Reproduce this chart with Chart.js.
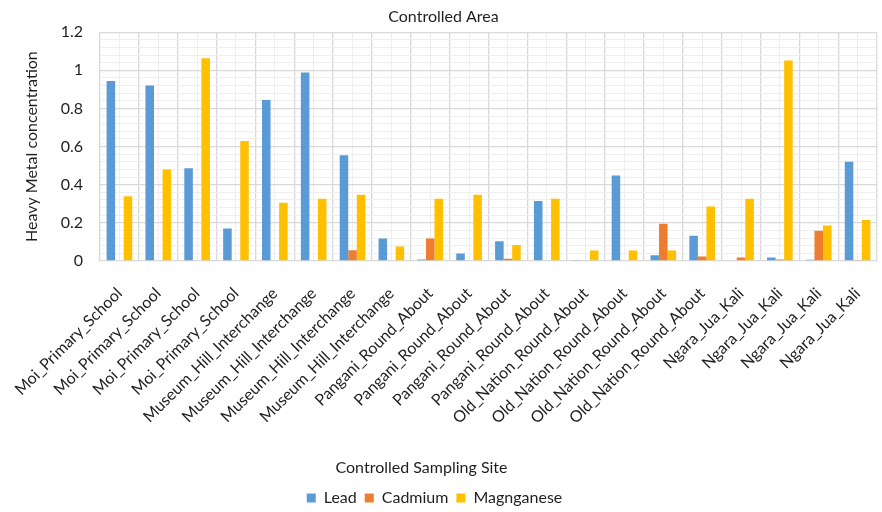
<!DOCTYPE html>
<html>
<head>
<meta charset="utf-8">
<script src="https://cdn.jsdelivr.net/npm/chart.js@4/dist/chart.umd.min.js"></script>
<style>
  html, body { margin: 0; padding: 0; background: #fff; }
  #wrap { width: 882px; height: 512px; }
</style>
</head>
<body>
<div id="wrap"><canvas id="chart" width="882" height="512"></canvas></div>
<script>
// Sampling sites in the controlled area
const sites = [
  'Moi_Primary_School', 'Moi_Primary_School', 'Moi_Primary_School', 'Moi_Primary_School',
  'Museum_Hill_Interchange', 'Museum_Hill_Interchange', 'Museum_Hill_Interchange', 'Museum_Hill_Interchange',
  'Pangani_Round_About', 'Pangani_Round_About', 'Pangani_Round_About', 'Pangani_Round_About',
  'Old_Nation_Round_About', 'Old_Nation_Round_About', 'Old_Nation_Round_About', 'Old_Nation_Round_About',
  'Ngara_Jua_Kali', 'Ngara_Jua_Kali', 'Ngara_Jua_Kali', 'Ngara_Jua_Kali'
];

// Heavy metal concentrations per sample
const lead = [0.944, 0.921, 0.487, 0.170, 0.844, 0.988, 0.555, 0.118, 0.008, 0.039,
              0.104, 0.315, 0.003, 0.449, 0.030, 0.133, 0.000, 0.019, 0.007, 0.520];
const cadmium = [0, 0, 0, 0, 0, 0, 0.056, 0, 0.118, 0,
                 0.012, 0.004, 0, 0, 0.196, 0.023, 0.018, 0.008, 0.158, 0.005];
const manganese = [0.340, 0.480, 1.063, 0.629, 0.305, 0.326, 0.347, 0.076, 0.326, 0.347,
                   0.084, 0.326, 0.055, 0.055, 0.055, 0.286, 0.326, 1.051, 0.186, 0.215];

// Axis range
const yMin = 0, yMax = 1.2, yMajorStep = 0.2, yMinorStep = 0.04;

const FONT = "Lato, 'Open Sans', sans-serif";
const TEXT = '#1f1f1f';
const MAJOR = '#d9d9d9';
const MINOR = '#eeeeee';

const isMajor = v => Math.abs(Math.round(v / yMajorStep) * yMajorStep - v) < 1e-6;
const noPadding = () => ({ left: 0, top: 0, right: 0, bottom: 0 });

// Horizontal centres for the title, axis caption and legend blocks
const blockCentres = { title: 443.5, subtitle: 421.5, legend: 434.5 };

const centreBlocks = {
  id: 'centreBlocks',
  afterLayout(chart) {
    const move = (box, cx) => {
      if (!box) return;
      const d = cx - (box.left + box.right) / 2;
      box.left += d;
      box.right += d;
    };
    chart.boxes.forEach(box => {
      if (box === chart.legend) move(box, blockCentres.legend);
      else if (box === chart.titleBlock) move(box, blockCentres.title);
      else if (box.options && box.options.text === 'Controlled Sampling Site') move(box, blockCentres.subtitle);
    });
  }
};

new Chart(document.getElementById('chart'), {
  type: 'bar',
  data: {
    labels: sites,
    datasets: [
      { label: 'Lead', data: lead, backgroundColor: '#5b9bd5' },
      { label: 'Cadmium', data: cadmium, backgroundColor: '#ed7d31' },
      { label: 'Magnganese', data: manganese, backgroundColor: '#ffc000' }
    ]
  },
  plugins: [centreBlocks],
  options: {
    responsive: false,
    animation: false,
    devicePixelRatio: 1,
    layout: { padding: { left: 22, right: 5, top: 3, bottom: -4 } },
    datasets: { bar: { categoryPercentage: 0.66, barPercentage: 1.0 } },
    plugins: {
      title: {
        display: true,
        text: 'Controlled Area',
        color: TEXT,
        font: { family: FONT, size: 16, weight: 'normal' },
        padding: { top: 4, bottom: 6 }
      },
      subtitle: {
        display: true,
        position: 'bottom',
        weight: 500,
        text: 'Controlled Sampling Site',
        color: TEXT,
        font: { family: FONT, size: 16, weight: 'normal' },
        padding: { top: 4, bottom: 4.4 }
      },
      legend: {
        position: 'bottom',
        labels: {
          color: TEXT,
          font: { family: FONT, size: 16 },
          boxWidth: 9,
          boxHeight: 9,
          padding: 8
        }
      },
      tooltip: { enabled: false }
    },
    scales: {
      x: {
        type: 'category',
        offset: true,
        grid: { offset: true, color: MAJOR, lineWidth: 1.3, drawTicks: false },
        border: { display: false },
        ticks: {
          color: TEXT,
          font: { family: FONT, size: 16 },
          minRotation: 45,
          maxRotation: 45,
          autoSkip: false,
          padding: 23
        },
        afterFit: scale => {
          scale.height = 193.4;
          scale.paddingLeft = 0;
          scale.paddingRight = 0;
          scale.getPadding = noPadding;
        }
      },
      // centre lines of each category
      xMinor: {
        type: 'category',
        position: 'bottom',
        offset: true,
        grid: { offset: false, color: MINOR, lineWidth: 1, drawTicks: false, z: -1 },
        border: { display: false },
        ticks: { display: false },
        afterFit: scale => {
          scale.height = 0;
          scale.paddingLeft = 0;
          scale.paddingRight = 0;
          scale.getPadding = noPadding;
        }
      },
      y: {
        min: yMin,
        max: yMax,
        grid: {
          color: ctx => isMajor(ctx.tick.value) ? MAJOR : MINOR,
          lineWidth: ctx => isMajor(ctx.tick.value) ? 1.3 : 1,
          drawTicks: false
        },
        border: { display: false },
        ticks: {
          stepSize: yMinorStep,
          maxTicksLimit: 100,
          autoSkip: false,
          color: TEXT,
          font: { family: FONT, size: 16 },
          padding: 17,
          callback: v => isMajor(v) ? String(Math.round(v * 10) / 10) : ''
        },
        title: {
          display: true,
          text: 'Heavy Metal concentration',
          color: TEXT,
          font: { family: FONT, size: 16 },
          padding: { top: 0, bottom: 20 }
        },
        afterFit: scale => {
          scale.width = 78;
        }
      }
    }
  }
});
</script>
</body>
</html>
